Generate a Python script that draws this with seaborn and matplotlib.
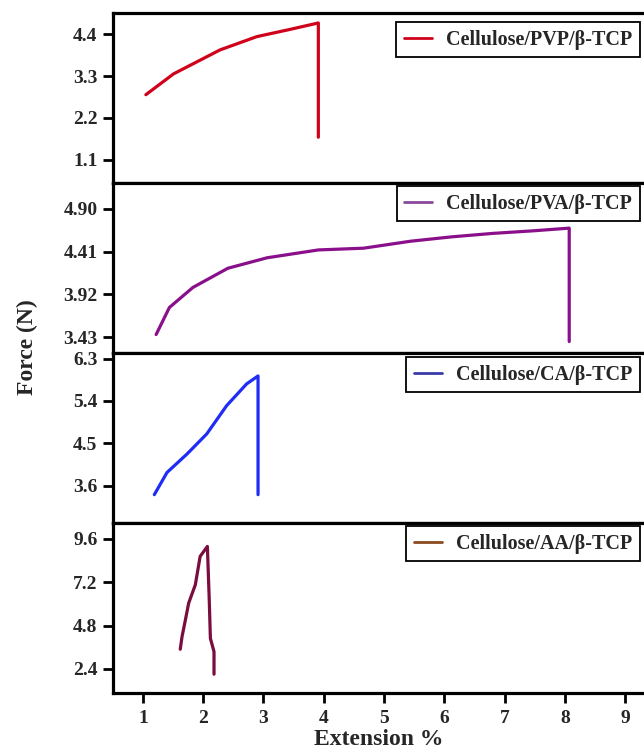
import matplotlib
matplotlib.use("Agg")
import matplotlib.pyplot as plt
import seaborn as sns
import pandas as pd
from matplotlib.lines import Line2D

sns.set_theme(style="white")
plt.rcParams['font.family'] = ['Liberation Serif', 'DejaVu Serif']
plt.rcParams['font.weight'] = 'bold'

# ---- data ----
pvp_x = [1.05, 1.51, 2.28, 2.89, 3.44, 3.91, 3.91]
pvp_y = [2.81, 3.36, 3.99, 4.34, 4.53, 4.70, 1.69]

pva_x = [1.22, 1.44, 1.83, 2.41, 3.06, 3.91, 4.66, 5.44, 6.12, 6.81, 7.49, 8.07, 8.07]
pva_y = [3.46, 3.77, 4.00, 4.22, 4.34, 4.43, 4.45, 4.53, 4.58, 4.62, 4.65, 4.68, 3.38]

ca_x = [1.19, 1.40, 1.73, 2.06, 2.39, 2.72, 2.91, 2.91]
ca_y = [3.41, 3.88, 4.27, 4.70, 5.30, 5.76, 5.93, 3.41]

aa_x = [1.62, 1.65, 1.70, 1.76, 1.87, 1.95, 2.07, 2.10, 2.12, 2.18, 2.18]
aa_y = [3.49, 4.19, 5.02, 6.04, 7.05, 8.62, 9.17, 6.31, 4.09, 3.35, 2.11]

labels = ["Cellulose/PVP/β-TCP", "Cellulose/PVA/β-TCP", "Cellulose/CA/β-TCP", "Cellulose/AA/β-TCP"]
line_colors = ["#d0021b", "#8a0f8a", "#1f2cf5", "#7a0c3e"]
legend_colors = ["#d0021b", "#8a4a9a", "#3a3aa8", "#8b4a20"]

yticks = [[1.1, 2.2, 3.3, 4.4], [3.43, 3.92, 4.41, 4.90], [3.6, 4.5, 5.4, 6.3], [2.4, 4.8, 7.2, 9.6]]
ytick_labels = [["1.1", "2.2", "3.3", "4.4"], ["3.43", "3.92", "4.41", "4.90"],
                ["3.6", "4.5", "5.4", "6.3"], ["2.4", "4.8", "7.2", "9.6"]]
ylims = [(0.49, 4.97), (3.25, 5.20), (2.81, 6.42), (1.07, 10.47)]
xticks = [1, 2, 3, 4, 5, 6, 7, 8, 9]

series = [(pvp_x, pvp_y), (pva_x, pva_y), (ca_x, ca_y), (aa_x, aa_y)]

W, H = 644, 753
fig = plt.figure(figsize=(W / 100, H / 100), dpi=100)
left = 112.7 / W
right = 1.0
top_px = 12.7
panel_h = (693 - 12.7) / 4

legend_tops = [22, 186, 357, 526]

for i, ((xs, ys), lab, col) in enumerate(zip(series, labels, line_colors)):
    y0 = top_px + panel_h * (i + 1)
    ax = fig.add_axes([left, 1 - y0 / H, right - left, panel_h / H])
    df = pd.DataFrame({"Extension": xs, "Force": ys})
    sns.lineplot(data=df, x="Extension", y="Force", sort=False, estimator=None,
                 color=col, linewidth=2.3, ax=ax)
    ax.set_xlim(0.5, 9.31)
    ax.set_ylim(*ylims[i])
    ax.set_yticks(yticks[i])
    ax.set_yticklabels(ytick_labels[i], fontsize=14, fontweight='bold')
    ax.set_xlabel("")
    ax.set_ylabel("")
    for s in ["left", "top", "bottom"]:
        ax.spines[s].set_color("black")
        ax.spines[s].set_linewidth(2.3)
    ax.spines["right"].set_visible(False)
    ax.tick_params(axis='y', direction='out', length=7, width=2, color='black', left=True, pad=4)
    ax.set_xticks(xticks)
    if i < 3:
        ax.tick_params(axis='x', bottom=False, labelbottom=False)
    else:
        ax.set_xticklabels([str(v) for v in xticks], fontsize=14, fontweight='bold')
        ax.tick_params(axis='x', direction='out', length=7, width=2, color='black', bottom=True, pad=5)
        ax.set_xlabel("Extension %", fontsize=17, fontweight='bold', labelpad=2)
    handle = Line2D([0], [0], color=legend_colors[i], lw=2)
    leg = ax.legend([handle], [lab], loc='upper right',
                    bbox_to_anchor=(640 / W, 1 - legend_tops[i] / H),
                    bbox_transform=fig.transFigure, borderaxespad=0,
                    prop={'family': 'Liberation Serif', 'weight': 'bold', 'size': 14.5},
                    frameon=True, fancybox=False, shadow=False, framealpha=1,
                    handlelength=1.4, handletextpad=0.7, borderpad=0.38)
    leg.get_frame().set_edgecolor("black")
    leg.get_frame().set_linewidth(1.3)

fig.text(27 / W, 1 - 347 / H, "Force (N)", rotation=90, ha='center', va='center',
         fontsize=17, fontweight='bold')

fig.savefig("out.png", dpi=100)
